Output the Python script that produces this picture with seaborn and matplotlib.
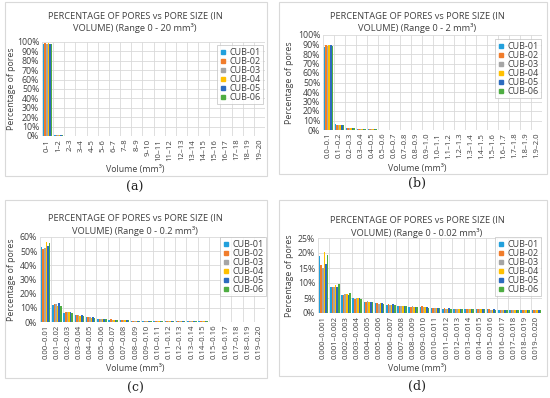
import numpy as np
import pandas as pd
import matplotlib
matplotlib.use("Agg")
import matplotlib.pyplot as plt
import seaborn as sns
from matplotlib.lines import Line2D
from matplotlib.patches import Rectangle

# --- DATA ---
samples = ["CUB-01", "CUB-02", "CUB-03", "CUB-04", "CUB-05", "CUB-06"]
colors = ["#22A0DC", "#F07C2B", "#A5A5A5", "#FFC000", "#2C6BBF", "#4EAD42"]

bins_a = [f"{i}\u2013{i + 1}" for i in range(20)]
bins_b = ["0.0\u20130.1", "0.1\u20130.2", "0.2\u20130.3", "0.3\u20130.4", "0.4\u20130.5",
          "0.5\u20130.6", "0.6\u20130.7", "0.7\u20130.8", "0.8\u20130.9", "0.9\u20131.0",
          "1.0\u20131.1", "1.1\u20131.2", "1.2\u20131.3", "1.3\u20131.4", "1.4\u20131.5",
          "1.5\u20131.6", "1.6\u20131.7", "1.7\u20131.8", "1.8\u20131.9", "1.9\u20132.0"]
bins_c = ["0.00\u20130.01", "0.01\u20130.02", "0.02\u20130.03", "0.03\u20130.04", "0.04\u20130.05",
          "0.05\u20130.06", "0.06\u20130.07", "0.07\u20130.08", "0.08\u20130.09", "0.09\u20130.10",
          "0.10\u20130.11", "0.11\u20130.12", "0.12\u20130.13", "0.13\u20130.14", "0.14\u20130.15",
          "0.15\u20130.16", "0.16\u20130.17", "0.17\u20130.18", "0.18\u20130.19", "0.19\u20130.20"]
bins_d = ["0.000\u20130.001", "0.001\u20130.002", "0.002\u20130.003", "0.003\u20130.004", "0.004\u20130.005",
          "0.005\u20130.006", "0.006\u20130.007", "0.007\u20130.008", "0.008\u20130.009", "0.009\u20130.010",
          "0.010\u20130.011", "0.011\u20130.012", "0.012\u20130.013", "0.013\u20130.014", "0.014\u20130.015",
          "0.015\u20130.016", "0.016\u20130.017", "0.017\u20130.018", "0.018\u20130.019", "0.019\u20130.020"]

# (a) range 0-20 mm3, percent
a01 = [97.6, 1.2, 0.4, 0.2, 0.1, 0.1, 0.05, 0.05, 0.03, 0.02, 0.02, 0.01, 0.01, 0.01, 0.01, 0, 0, 0, 0, 0]
a02 = [98.9, 0.6, 0.2, 0.1, 0.05, 0.03, 0.02, 0.01, 0.01, 0.01, 0, 0, 0, 0, 0, 0, 0, 0, 0, 0]
a03 = [98.2, 1.3, 0.3, 0.1, 0.05, 0.03, 0.02, 0.01, 0.01, 0, 0, 0, 0, 0, 0, 0, 0, 0, 0, 0]
a04 = [99.0, 0.6, 0.2, 0.1, 0.05, 0.02, 0.01, 0.01, 0, 0, 0, 0, 0, 0, 0, 0, 0, 0, 0, 0]
a05 = [98.4, 0.9, 0.3, 0.1, 0.05, 0.03, 0.02, 0.01, 0.01, 0, 0, 0, 0, 0, 0, 0, 0, 0, 0, 0]
a06 = [98.3, 1.0, 0.3, 0.1, 0.05, 0.03, 0.02, 0.01, 0.01, 0, 0, 0, 0, 0, 0, 0, 0, 0, 0, 0]

# (b) range 0-2 mm3
b01 = [87.0, 5.8, 2.4, 1.2, 0.8, 0.5, 0.35, 0.25, 0.2, 0.15, 0.12, 0.1, 0.08, 0.06, 0.05, 0.05, 0.04, 0.03, 0.03, 0.03]
b02 = [89.6, 5.5, 2.2, 1.1, 0.7, 0.45, 0.3, 0.22, 0.17, 0.13, 0.1, 0.08, 0.07, 0.06, 0.05, 0.04, 0.03, 0.03, 0.02, 0.02]
b03 = [88.4, 5.6, 2.3, 1.1, 0.7, 0.45, 0.3, 0.22, 0.17, 0.13, 0.1, 0.08, 0.07, 0.06, 0.05, 0.04, 0.03, 0.03, 0.02, 0.02]
b04 = [89.8, 5.2, 2.1, 1.0, 0.65, 0.4, 0.28, 0.2, 0.15, 0.12, 0.1, 0.08, 0.06, 0.05, 0.04, 0.04, 0.03, 0.03, 0.02, 0.02]
b05 = [89.3, 5.6, 2.2, 1.1, 0.7, 0.45, 0.3, 0.22, 0.17, 0.13, 0.1, 0.08, 0.07, 0.06, 0.05, 0.04, 0.03, 0.03, 0.02, 0.02]
b06 = [88.0, 5.7, 2.4, 1.2, 0.75, 0.5, 0.33, 0.24, 0.18, 0.14, 0.11, 0.09, 0.07, 0.06, 0.05, 0.04, 0.04, 0.03, 0.03, 0.02]

# (c) range 0-0.2 mm3
c01 = [53.0, 12.0, 6.5, 4.6, 3.2, 2.3, 1.7, 1.3, 1.0, 0.85, 0.7, 0.6, 0.5, 0.45, 0.4, 0.35, 0.3, 0.27, 0.24, 0.2]
c02 = [51.5, 13.0, 7.1, 4.8, 3.3, 2.4, 1.8, 1.35, 1.05, 0.9, 0.75, 0.62, 0.52, 0.46, 0.4, 0.35, 0.3, 0.27, 0.24, 0.21]
c03 = [52.0, 13.0, 7.0, 4.7, 3.2, 2.3, 1.7, 1.3, 1.0, 0.85, 0.7, 0.6, 0.5, 0.45, 0.4, 0.35, 0.3, 0.27, 0.24, 0.2]
c04 = [56.8, 11.6, 6.8, 4.5, 3.0, 2.2, 1.6, 1.25, 0.95, 0.8, 0.66, 0.56, 0.48, 0.42, 0.37, 0.33, 0.29, 0.25, 0.22, 0.2]
c05 = [53.5, 13.6, 6.8, 4.7, 3.3, 2.3, 1.7, 1.3, 1.0, 0.85, 0.7, 0.6, 0.5, 0.45, 0.4, 0.35, 0.3, 0.27, 0.24, 0.2]
c06 = [56.0, 11.0, 6.3, 4.3, 3.0, 2.2, 1.6, 1.2, 0.95, 0.8, 0.66, 0.56, 0.48, 0.42, 0.37, 0.33, 0.29, 0.25, 0.22, 0.2]

# (d) range 0-0.02 mm3
d01 = [19.0, 8.8, 5.9, 5.0, 3.6, 3.2, 2.6, 2.2, 2.0, 1.9, 1.7, 1.5, 1.4, 1.35, 1.25, 1.2, 1.1, 1.0, 0.95, 0.9]
d02 = [16.0, 8.7, 6.0, 4.8, 3.8, 3.3, 3.1, 2.5, 2.1, 2.2, 1.8, 1.6, 1.45, 1.35, 1.25, 1.2, 1.15, 1.05, 1.0, 0.95]
d03 = [15.0, 8.8, 6.2, 4.9, 3.9, 3.1, 2.8, 2.3, 2.2, 2.0, 1.7, 1.5, 1.4, 1.3, 1.2, 1.15, 1.1, 1.0, 0.95, 0.9]
d04 = [20.5, 9.3, 6.5, 5.0, 3.8, 3.2, 2.7, 2.3, 2.0, 1.9, 1.7, 1.5, 1.4, 1.3, 1.2, 1.15, 1.1, 1.0, 0.95, 0.9]
d05 = [16.2, 8.8, 6.0, 5.0, 3.8, 3.4, 3.0, 2.4, 2.1, 2.0, 1.7, 1.6, 1.45, 1.35, 1.25, 1.2, 1.1, 1.0, 0.95, 0.9]
d06 = [19.5, 9.7, 6.6, 4.7, 3.7, 3.1, 2.8, 2.2, 2.1, 1.8, 1.6, 1.5, 1.4, 1.3, 1.2, 1.15, 1.05, 1.0, 0.95, 0.9]

panels = [
    ("a", bins_a, [a01, a02, a03, a04, a05, a06], "0 - 20", 100, 10),
    ("b", bins_b, [b01, b02, b03, b04, b05, b06], "0 - 2", 100, 10),
    ("c", bins_c, [c01, c02, c03, c04, c05, c06], "0 - 0.2", 60, 10),
    ("d", bins_d, [d01, d02, d03, d04, d05, d06], "0 - 0.02", 25, 5),
]

# --- LAYOUT (pixels, top-left origin) ---
W, H = 550, 398
# axes box: left, right, top, bottom
ax_px = {"a": (42, 265, 42, 136), "b": (323, 542, 35, 130),
         "c": (40, 265, 237, 322), "d": (318, 542, 238, 313)}
box_px = {"a": (5, 267, 2, 176), "b": (279, 547, 2, 174),
          "c": (5, 267, 200, 378), "d": (279, 547, 200, 376)}
title_px = {"a": (135, 16), "b": (417, 16), "c": (135, 219), "d": (417, 221)}
xlabel_px = {"a": (135, 170), "b": (417, 168), "c": (135, 368), "d": (417, 369)}
ylabel_px = {"a": 12, "b": 290, "c": 12, "d": 290}
tag_px = {"a": (135, 187), "b": (417, 183), "c": (135, 388), "d": (417, 386)}
legend_px = {"a": (263, 45), "b": (541, 39), "c": (266, 237), "d": (541, 237)}

sns.set_theme(style="white")
plt.rcParams["font.family"] = ["Open Sans", "DejaVu Sans"]
text_color = "#404040"

fig = plt.figure(figsize=(W / 100, H / 100), dpi=100)


def fx(x):
    return x / W


def fy(y):
    return 1 - y / H


for key, bins, series, rng, ymax, ystep in panels:
    l, r, t, b = ax_px[key]
    bl, br, bt, bb = box_px[key]
    fig.patches.append(Rectangle((fx(bl), fy(bb)), fx(br - bl), (bb - bt) / H,
                                 transform=fig.transFigure, fill=False,
                                 edgecolor="#D9D9D9", linewidth=0.8, zorder=0))
    ax = fig.add_axes([fx(l), fy(b), fx(r - l), (b - t) / H])

    rows = []
    for name, vals in zip(samples, series):
        for cat, v in zip(bins, vals):
            rows.append({"bin": cat, "pct": v, "sample": name})
    df = pd.DataFrame(rows)

    sns.barplot(data=df, x="bin", y="pct", hue="sample", order=bins,
                hue_order=samples, palette=colors, saturation=1,
                width=0.85, ax=ax, legend=False, zorder=3,
                linewidth=0, edgecolor="none")

    ax.set_xlim(-0.5, len(bins) - 0.5)
    ax.set_ylim(0, ymax)
    yt = np.arange(0, ymax + 0.1, ystep)
    ax.set_yticks(yt)
    ax.set_yticklabels([f"{int(v)}%" for v in yt], fontsize=6.3, color=text_color)
    ax.set_xticks(range(len(bins)))
    ax.set_xticklabels(bins, rotation=90, fontsize=5.6, color=text_color)
    ax.tick_params(axis="both", length=0, pad=2)
    for v in yt:
        ax.axhline(v, color="#D9D9D9", linewidth=0.6, zorder=1)
    for i in range(len(bins) + 1):
        ax.axvline(i - 0.5, color="#D9D9D9", linewidth=0.6, zorder=1)
    for s in ax.spines.values():
        s.set_visible(False)
    ax.set_xlabel("")
    ax.set_ylabel("")

    tx, ty = title_px[key]
    fig.text(fx(tx), fy(ty), "PERCENTAGE OF PORES vs PORE SIZE (IN",
             ha="center", va="center", fontsize=6.7, color=text_color)
    fig.text(fx(tx), fy(ty + 12), f"VOLUME) (Range {rng} mm\u00b3)",
             ha="center", va="center", fontsize=6.7, color=text_color)
    xx, xy = xlabel_px[key]
    fig.text(fx(xx), fy(xy), "Volume (mm\u00b3)", ha="center", va="center",
             fontsize=6.3, color=text_color)
    fig.text(fx(ylabel_px[key]), fy((t + b) / 2), "Percentage of pores",
             rotation=90, ha="center", va="center", fontsize=6.3, color=text_color)
    gx, gy = tag_px[key]
    fig.text(fx(gx), fy(gy), f"({key})", ha="center", va="center",
             fontsize=9, family="DejaVu Serif", color="#222222")

    handles = [Line2D([], [], marker="s", linestyle="", markersize=3.5,
                      markerfacecolor=c, markeredgecolor=c) for c in colors]
    lx, ly = legend_px[key]
    leg = ax.legend(handles, samples, loc="upper right",
                    bbox_to_anchor=(fx(lx), fy(ly)), bbox_transform=fig.transFigure,
                    fontsize=6.5, frameon=True, fancybox=False, borderpad=0.3,
                    handlelength=0.7, handletextpad=0.3, labelspacing=0.0,
                    borderaxespad=0)
    leg.get_frame().set_edgecolor("#BFBFBF")
    leg.get_frame().set_linewidth(0.6)
    for txt in leg.get_texts():
        txt.set_color(text_color)

fig.savefig("out.png", dpi=100, facecolor="white")
